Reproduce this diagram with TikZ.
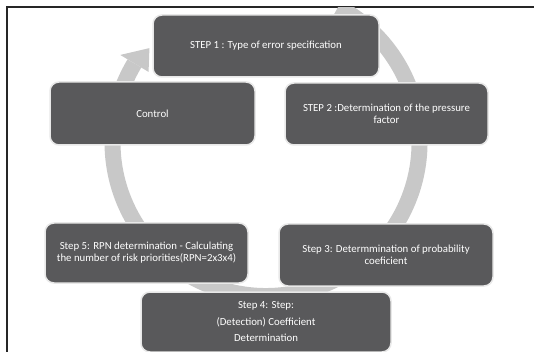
\documentclass[tikz,border=0pt]{standalone}
\usepackage{fontspec}
\setmainfont{Carlito}
\definecolor{boxgray}{RGB}{89,89,91}
\definecolor{ringgray}{RGB}{200,200,200}
\definecolor{rimgray}{RGB}{232,232,232}

\begin{document}
\begin{tikzpicture}[x=1pt, y=-1pt,
		every node/.style={white, align=center, font=\fontsize{10.8}{12}\selectfont},
		stepbox/.style={draw=rimgray, line width=1.5pt, fill=boxgray, rounded corners=9pt, inner sep=2pt}]
	\useasboundingbox (0,0) rectangle (534,352);
	\draw[line width=1.1pt, black!85] (534,7) -- (7,7) -- (7,352);
	\begin{scope}
		\clip (7.6,7.6) rectangle (534,352);
		\begin{scope}[shift={(266,142.5)}]
			\draw[ringgray, line width=16pt] (298:153.5) arc[start angle=298, end angle=571, radius=153.5];
			\fill[ringgray] (211:170) -- (219:150) -- (211:137) -- cycle;
		\end{scope}
	\end{scope}
	\node[stepbox, minimum width=226pt, minimum height=62pt] (step1) at (266,46) {STEP 1 : Type of error specification};
	\node[stepbox, minimum width=205pt, minimum height=63pt] (control) at (152.5,113.5) {Control};
	\node[stepbox, minimum width=203pt, minimum height=62pt] (step2) at (386.5,114) {STEP 2 :Determination of the pressure\\factor};
	\node[stepbox, minimum width=214pt, minimum height=62pt] (step3) at (386,255) {Step 3: Determmination of probability\\coeficient};
	\node[stepbox, minimum width=203pt, minimum height=60pt] (step5) at (146.5,253) {Step 5: RPN determination - Calculating\\the number of risk priorities(RPN=2x3x4)};
	\node[stepbox, minimum width=250pt, minimum height=60pt] (step4) at (266,322) {Step 4: Step:\\[4.5pt](Detection) Coefficient\\[4.5pt]Determination};
\end{tikzpicture}
\end{document}
